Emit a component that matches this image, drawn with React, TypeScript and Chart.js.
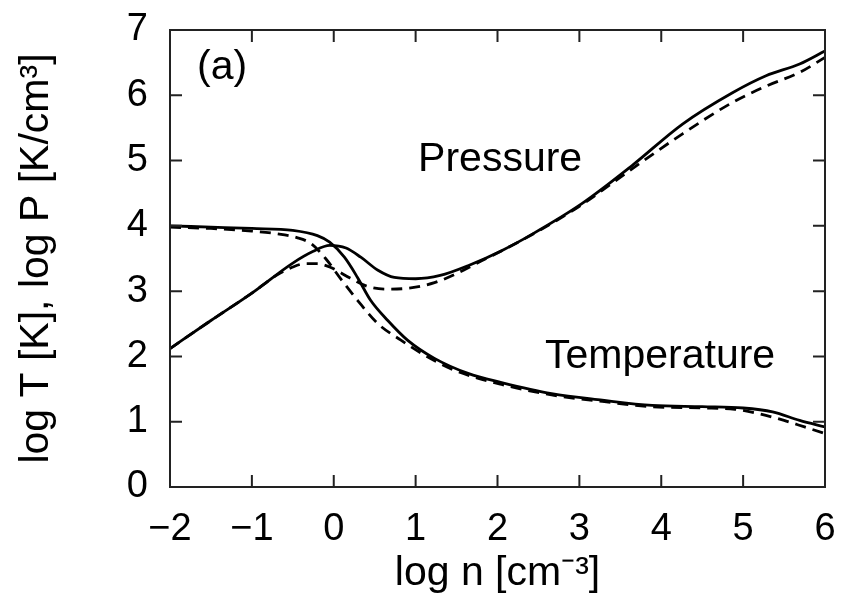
import React, { useEffect, useRef } from "react";
import { Chart, registerables } from "chart.js";

Chart.register(...registerables);

// Pressure, solid
const pSolidX = [-2, -1.5, -1, -0.5, -0.25, -0.05, 0.15, 0.33, 0.54, 0.74, 1.0, 1.3, 1.64, 2.05, 2.42, 3.03, 3.64, 4.26, 4.87, 5.28, 5.69, 6.0];
const pSolidY = [2.12, 2.55, 2.97, 3.43, 3.61, 3.70, 3.66, 3.52, 3.32, 3.21, 3.19, 3.24, 3.39, 3.62, 3.87, 4.34, 4.92, 5.56, 6.04, 6.30, 6.48, 6.68];
// Pressure, dashed
const pDashX = [-2, -1.5, -1, -0.69, -0.5, -0.35, -0.2, -0.05, 0.2, 0.42, 0.66, 0.94, 1.23, 1.52, 1.8, 2.1, 2.5, 3.0, 3.64, 4.26, 4.87, 5.28, 5.69, 6.0];
const pDashY = [2.12, 2.55, 2.97, 3.25, 3.37, 3.42, 3.42, 3.37, 3.20, 3.07, 3.03, 3.05, 3.13, 3.28, 3.46, 3.65, 3.92, 4.30, 4.87, 5.41, 5.89, 6.14, 6.35, 6.58];
// Temperature, solid
const tSolidX = [-2, -1.5, -1, -0.5, -0.2, -0.05, 0.13, 0.29, 0.45, 0.66, 0.9, 1.23, 1.64, 2.05, 2.66, 3.28, 3.89, 4.5, 5.0, 5.36, 5.69, 6.0];
const tSolidY = [4.0, 3.98, 3.96, 3.93, 3.85, 3.75, 3.52, 3.21, 2.86, 2.55, 2.25, 1.97, 1.74, 1.6, 1.43, 1.33, 1.25, 1.23, 1.21, 1.15, 1.02, 0.92];
// Temperature, dashed
const tDashX = [-2, -1.5, -1, -0.7, -0.45, -0.28, -0.1, 0.09, 0.29, 0.54, 0.82, 1.15, 1.47, 2.05, 2.66, 3.28, 3.89, 4.5, 4.9, 5.2, 5.5, 5.75, 6.0];
const tDashY = [3.98, 3.96, 3.92, 3.88, 3.82, 3.73, 3.5, 3.18, 2.86, 2.5, 2.25, 1.99, 1.79, 1.57, 1.41, 1.31, 1.23, 1.21, 1.19, 1.12, 1.02, 0.92, 0.82];

const xTicks = [-2, -1, 0, 1, 2, 3, 4, 5, 6];
const yTicks = [0, 1, 2, 3, 4, 5, 6, 7];

const xTitle = "log n [cm\u207B\u00B3]";
const yTitle = "log T [K], log P [K/cm\u00B3]";

// annotation labels: [text, x, y(center)]
const labels: [string, number, number][] = [
  ["(a)", -1.67, 6.42],
  ["Pressure", 1.03, 5.01],
  ["Temperature", 2.58, 2.0],
];

const FONT = "'Liberation Sans', Arial, sans-serif";

const pts = (xs: number[], ys: number[]) => xs.map((x, i) => ({ x, y: ys[i] }));

const framePlugin = {
  id: "frame",
  afterDatasetsDraw(chart: any) {
    const { ctx, chartArea: a, scales } = chart;
    const xs = scales.x, ys = scales.y;
    ctx.save();
    ctx.strokeStyle = "#222";
    ctx.lineWidth = 2;
    ctx.strokeRect(a.left, a.top, a.right - a.left, a.bottom - a.top);
    const L = 12;
    ctx.beginPath();
    xTicks.forEach((v) => {
      const px = xs.getPixelForValue(v);
      ctx.moveTo(px, a.bottom); ctx.lineTo(px, a.bottom - L);
      ctx.moveTo(px, a.top); ctx.lineTo(px, a.top + L);
    });
    yTicks.forEach((v) => {
      const py = ys.getPixelForValue(v);
      ctx.moveTo(a.left, py); ctx.lineTo(a.left + L, py);
      ctx.moveTo(a.right, py); ctx.lineTo(a.right - L, py);
    });
    ctx.stroke();
    ctx.fillStyle = "#000";
    ctx.font = `41px ${FONT}`;
    ctx.textBaseline = "middle";
    ctx.textAlign = "left";
    labels.forEach(([t, x, y]) => {
      ctx.fillText(t, xs.getPixelForValue(x), ys.getPixelForValue(y));
    });
    ctx.restore();
  },
};

export default function App() {
  const ref = useRef<HTMLCanvasElement>(null);
  useEffect(() => {
    document.body.style.margin = "0";
    const line = (data: any, dashed: boolean) => ({
      data,
      borderColor: "#000",
      borderWidth: 2.8,
      borderDash: dashed ? [11, 7] : [],
      pointRadius: 0,
      fill: false,
      cubicInterpolationMode: "monotone" as const,
    });
    const chart = new Chart(ref.current!, {
      type: "line",
      data: {
        datasets: [
          line(pts(pSolidX, pSolidY), false),
          line(pts(pDashX, pDashY), true),
          line(pts(tSolidX, tSolidY), false),
          line(pts(tDashX, tDashY), true),
        ],
      },
      options: {
        responsive: false,
        animation: false,
        layout: { padding: { top: 30, right: 18, left: 0, bottom: 0 } },
        plugins: { legend: { display: false }, tooltip: { enabled: false } },
        scales: {
          x: {
            type: "linear",
            min: -2,
            max: 6,
            afterFit: (s: any) => { s.height = 106; s.paddingLeft = 0; s.paddingRight = 0; },
            afterBuildTicks: (s: any) => { s.ticks = xTicks.map((v) => ({ value: v })); },
            grid: { display: false },
            border: { display: false },
            ticks: {
              color: "#000",
              font: { size: 38, family: FONT },
              padding: 12,
              maxRotation: 0,
              callback: (v: any) => String(v).replace("-", "\u2212"),
            },
            title: {
              display: true,
              text: xTitle,
              color: "#000",
              font: { size: 41, family: FONT },
              padding: { top: 0, bottom: -5 },
            },
          },
          y: {
            type: "linear",
            min: 0,
            max: 7,
            afterFit: (s: any) => { s.width = 170; s.paddingTop = 0; s.paddingBottom = 0; },
            afterBuildTicks: (s: any) => { s.ticks = yTicks.map((v) => ({ value: v })); },
            grid: { display: false },
            border: { display: false },
            ticks: {
              color: "#000",
              font: { size: 38, family: FONT },
              padding: 14,
            },
            title: {
              display: true,
              text: yTitle,
              color: "#000",
              font: { size: 41, family: FONT },
              padding: { top: 12, bottom: 0 },
            },
          },
        },
      },
      plugins: [framePlugin],
    });
    return () => chart.destroy();
  }, []);
  return (
    <div style={{ position: "absolute", left: 0, top: 0, width: 843, height: 593, background: "#fff" }}>
      <canvas ref={ref} width={843} height={593} />
    </div>
  );
}
